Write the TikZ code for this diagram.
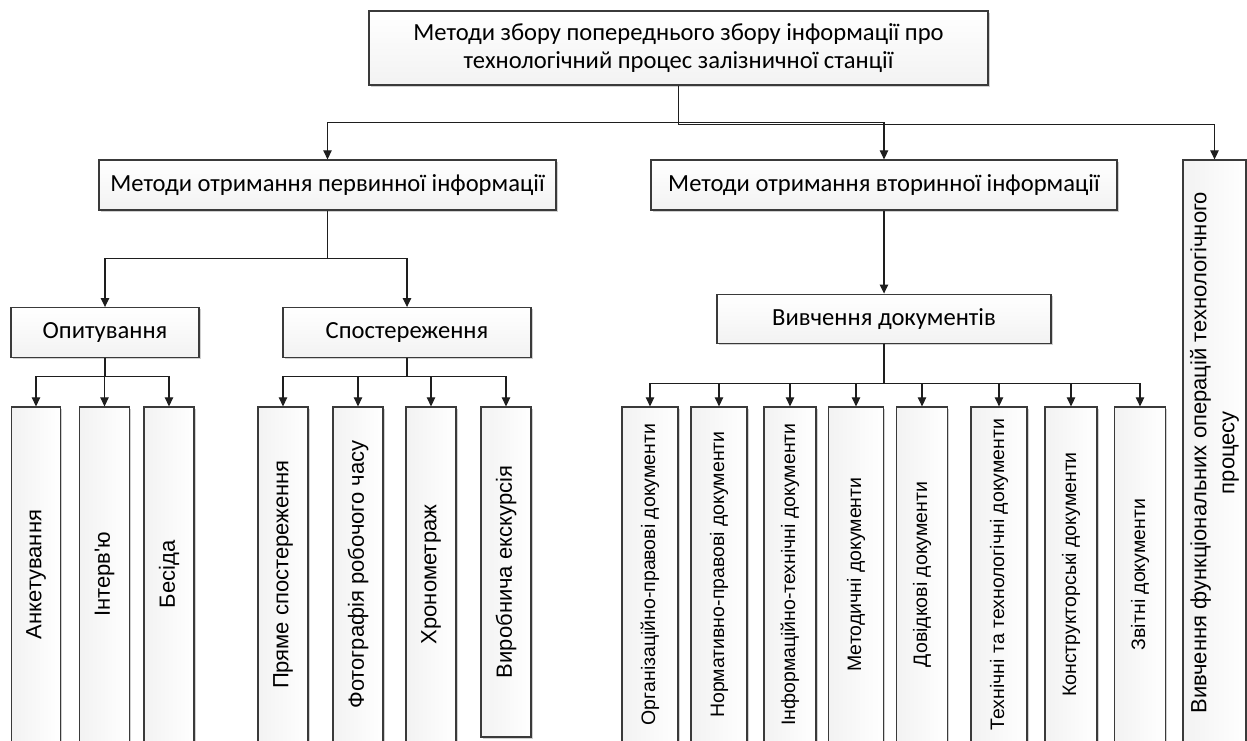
\documentclass[tikz,border=0pt]{standalone}
\usepackage{fontspec}
\setmainfont{Carlito}
\newfontfamily\arialfont{Liberation Sans}
\usetikzlibrary{arrows.meta,positioning,shadows}
\definecolor{ramka}{HTML}{3A3A3A}
\definecolor{liniya}{HTML}{1E1E1E}
\definecolor{tin}{HTML}{BDBDBD}

\begin{document}
\begin{tikzpicture}[
			x=1pt,y=-1pt,
			blok/.style={draw=ramka,line width=1.3pt,inner sep=2pt,align=center,drop shadow={shadow xshift=1.6pt,shadow yshift=-1.6pt,fill=tin,opacity=0.7}},
			korin/.style={blok,top color=white,bottom color=black!5,minimum width=619pt,minimum height=74pt,font=\fontsize{24.6}{27.5}\selectfont},
			riven/.style={blok,top color=white,bottom color=black!5,minimum width=#1,minimum height=50pt,font=\fontsize{24.6}{27.5}\selectfont},
			lyst/.style={blok,rotate=90,left color=black!5,right color=white,minimum width=335pt,minimum height=#1,font=\arialfont\fontsize{22}{26}\selectfont},
			dok/.style={lyst=#1,font=\arialfont\fontsize{19.5}{24}\selectfont},
			arr/.style={-{Triangle[length=9pt,width=8.5pt]},line width=1.1pt,liniya}
			]
			\fill[white] (0,0) rectangle (1247,740);
			\useasboundingbox (0,0) rectangle (1247,740);
			% верхній рівень
			\node[korin] (metody) at (678.5,48) {Методи збору попереднього збору інформації про\\технологічний процес залізничної станції};
			\node[riven=457pt] (pervynna) at (327.5,185) {Методи отримання первинної інформації};
			\node[riven=466pt] (vtorynna) at (884,185) {Методи отримання вторинної інформації};
			\node[blok,rotate=90,left color=black!5,right color=white,minimum width=585pt,minimum height=63pt,font=\arialfont\fontsize{22}{28}\selectfont] (funkts) at (1214.5,452.5) {Вивчення функціональних операцій технологічного\\процесу};
			% другий рівень
			\node[riven=188pt] (opyt) at (105,332.7) {Опитування};
			\node[riven=248pt] (sposter) at (407,332.7) {Спостереження};
			\node[riven=334pt,minimum height=49pt] (vyvch) at (884,318.7) {Вивчення документів};
			% листки
			\node[lyst=49pt] (ank) at (36,574.5) {Анкетування};
			\node[lyst=50pt] (interv) at (104.5,574.5) {Інтерв'ю};
			\node[lyst=50pt] (besida) at (169,574.5) {Бесіда};
			\node[lyst=50pt] (pryame) at (283,574.5) {Пряме спостереження};
			\node[lyst=50pt] (foto) at (358,574.5) {Фотографія робочого часу};
			\node[lyst=50pt] (khrono) at (431,574.5) {Хронометраж};
			\node[lyst=50pt,minimum width=330pt] (ekskurs) at (506,572) {Виробнича екскурсія};
			\node[dok=56pt] (d1) at (650,574.5) {Організаційно-правові документи};
			\node[dok=56pt] (d2) at (719,574.5) {Нормативно-правові документи};
			\node[dok=52pt] (d3) at (790,574.5) {Інформаційно-технічні документи};
			\node[dok=55pt] (d4) at (856,574.5) {Методичні документи};
			\node[dok=51pt] (d5) at (922,574.5) {Довідкові документи};
			\node[dok=56pt] (d6) at (999,574.5) {Технічні та технологічні документи};
			\node[dok=52pt] (d7) at (1071,574.5) {Конструкторські документи};
			\node[dok=51pt] (d8) at (1140,574.5) {Звітні документи};
			% з'єднання
			\draw[arr] (metody.south) -- ++(0,37) -| (pervynna.north);
			\draw[arr] (metody.south) -- ++(0,37) -| (vtorynna.north);
			\draw[arr] (metody.south) -- ++(0,39) -| (funkts.east);
			\draw[arr] (pervynna.south) -- ++(0,48) -| (opyt.north);
			\draw[arr] (pervynna.south) -- ++(0,48) -| (sposter.north);
			\draw[arr] (vtorynna.south) -- (vyvch.north);
			\draw[arr] (opyt.south) -- ++(0,18.3) -| (ank.east);
			\draw[arr] (opyt.south) -- ++(0,18.3) -| (interv.east);
			\draw[arr] (opyt.south) -- ++(0,18.3) -| (besida.east);
			\draw[arr] (sposter.south) -- ++(0,18.3) -| (pryame.east);
			\draw[arr] (sposter.south) -- ++(0,18.3) -| (foto.east);
			\draw[arr] (sposter.south) -- ++(0,18.3) -| (khrono.east);
			\draw[arr] (sposter.south) -- ++(0,18.3) -| (ekskurs.east);
			\draw[arr] (vyvch.south) -- ++(0,40) -| (d1.east);
			\draw[arr] (vyvch.south) -- ++(0,40) -| (d2.east);
			\draw[arr] (vyvch.south) -- ++(0,40) -| (d3.east);
			\draw[arr] (vyvch.south) -- ++(0,40) -| (d4.east);
			\draw[arr] (vyvch.south) -- ++(0,40) -| (d5.east);
			\draw[arr] (vyvch.south) -- ++(0,40) -| (d6.east);
			\draw[arr] (vyvch.south) -- ++(0,40) -| (d7.east);
			\draw[arr] (vyvch.south) -- ++(0,40) -| (d8.east);
		\end{tikzpicture}
\end{document}
